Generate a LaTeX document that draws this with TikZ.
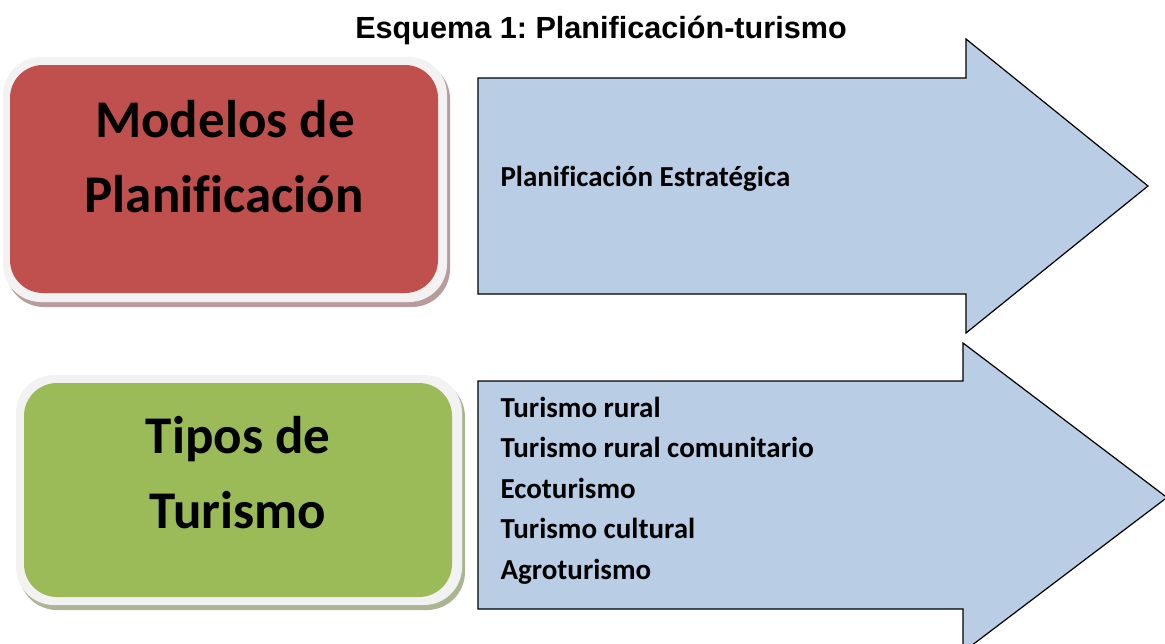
\documentclass[tikz,border=0pt]{standalone}
\usepackage{fontspec}
\setmainfont{Carlito}[Ligatures=CommonOff]
\newfontfamily\titlefont{Liberation Sans}
\usepackage{tikz}
\frenchspacing

\definecolor{boxred}{HTML}{C0504D}
\definecolor{boxgreen}{HTML}{9BBB59}
\definecolor{arrowblue}{HTML}{B9CDE5}
\definecolor{rim}{HTML}{F2F2F2}
\definecolor{redshade}{HTML}{B89C9D}
\definecolor{greenshade}{HTML}{ABB592}

\tikzset{
	bigtext/.style={anchor=base,font=\fontsize{53}{60}\selectfont\bfseries},
	itemtext/.style={anchor=base west,font=\fontsize{29}{32}\selectfont\bfseries},
	blockarrow/.style={draw=black,line width=1.2pt,fill=arrowblue,line join=miter}
}

\begin{document}
\begin{tikzpicture}[x=1pt,y=-1pt]
	\useasboundingbox (0,0) rectangle (1165,643);
	\clip (0,0) rectangle (1165,643);
	% title
	\node[anchor=base,font=\titlefont\fontsize{30.6}{34}\selectfont\bfseries] (titulo) at (601,38) {Esquema 1: Planificación-turismo};
	% red box
	\fill[redshade,rounded corners=38pt] (6,61) rectangle (450,307);
	\fill[rim,rounded corners=38pt] (3,57) rectangle (447,302);
	\fill[boxred,rounded corners=33pt] (10,65) rectangle (438,293);
	\node[bigtext] (modelos) at (225,137) {Modelos de};
	\node[bigtext] (planif) at (224,212) {Planificación};
	% green box
	\fill[greenshade,rounded corners=38pt] (19,379) rectangle (465,610);
	\fill[rim,rounded corners=38pt] (16,375) rectangle (462,605);
	\fill[boxgreen,rounded corners=33pt] (24,383) rectangle (452,597);
	\node[bigtext] (tipos) at (238,453) {Tipos de};
	\node[bigtext] (turismo) at (238,528) {Turismo};
	% arrows
	\draw[blockarrow] (478,78) -- (966,78) -- (966,39) -- (1148,186) -- (966,333) -- (966,294) -- (478,294) -- cycle;
	\draw[blockarrow] (478,381) -- (963,381) -- (963,343) -- (1167,497.5) -- (963,652) -- (963,609) -- (478,609) -- cycle;
	\node[itemtext] (estrat) at (497,186) {Planificación Estratégica};
	\foreach \t [count=\i from 0] in {Turismo rural,Turismo rural comunitario,Ecoturismo,Turismo cultural,Agroturismo} {
		\node[itemtext] (tipo\i) at (497,417.5+40.4*\i) {\t};
	}
\end{tikzpicture}
\end{document}
